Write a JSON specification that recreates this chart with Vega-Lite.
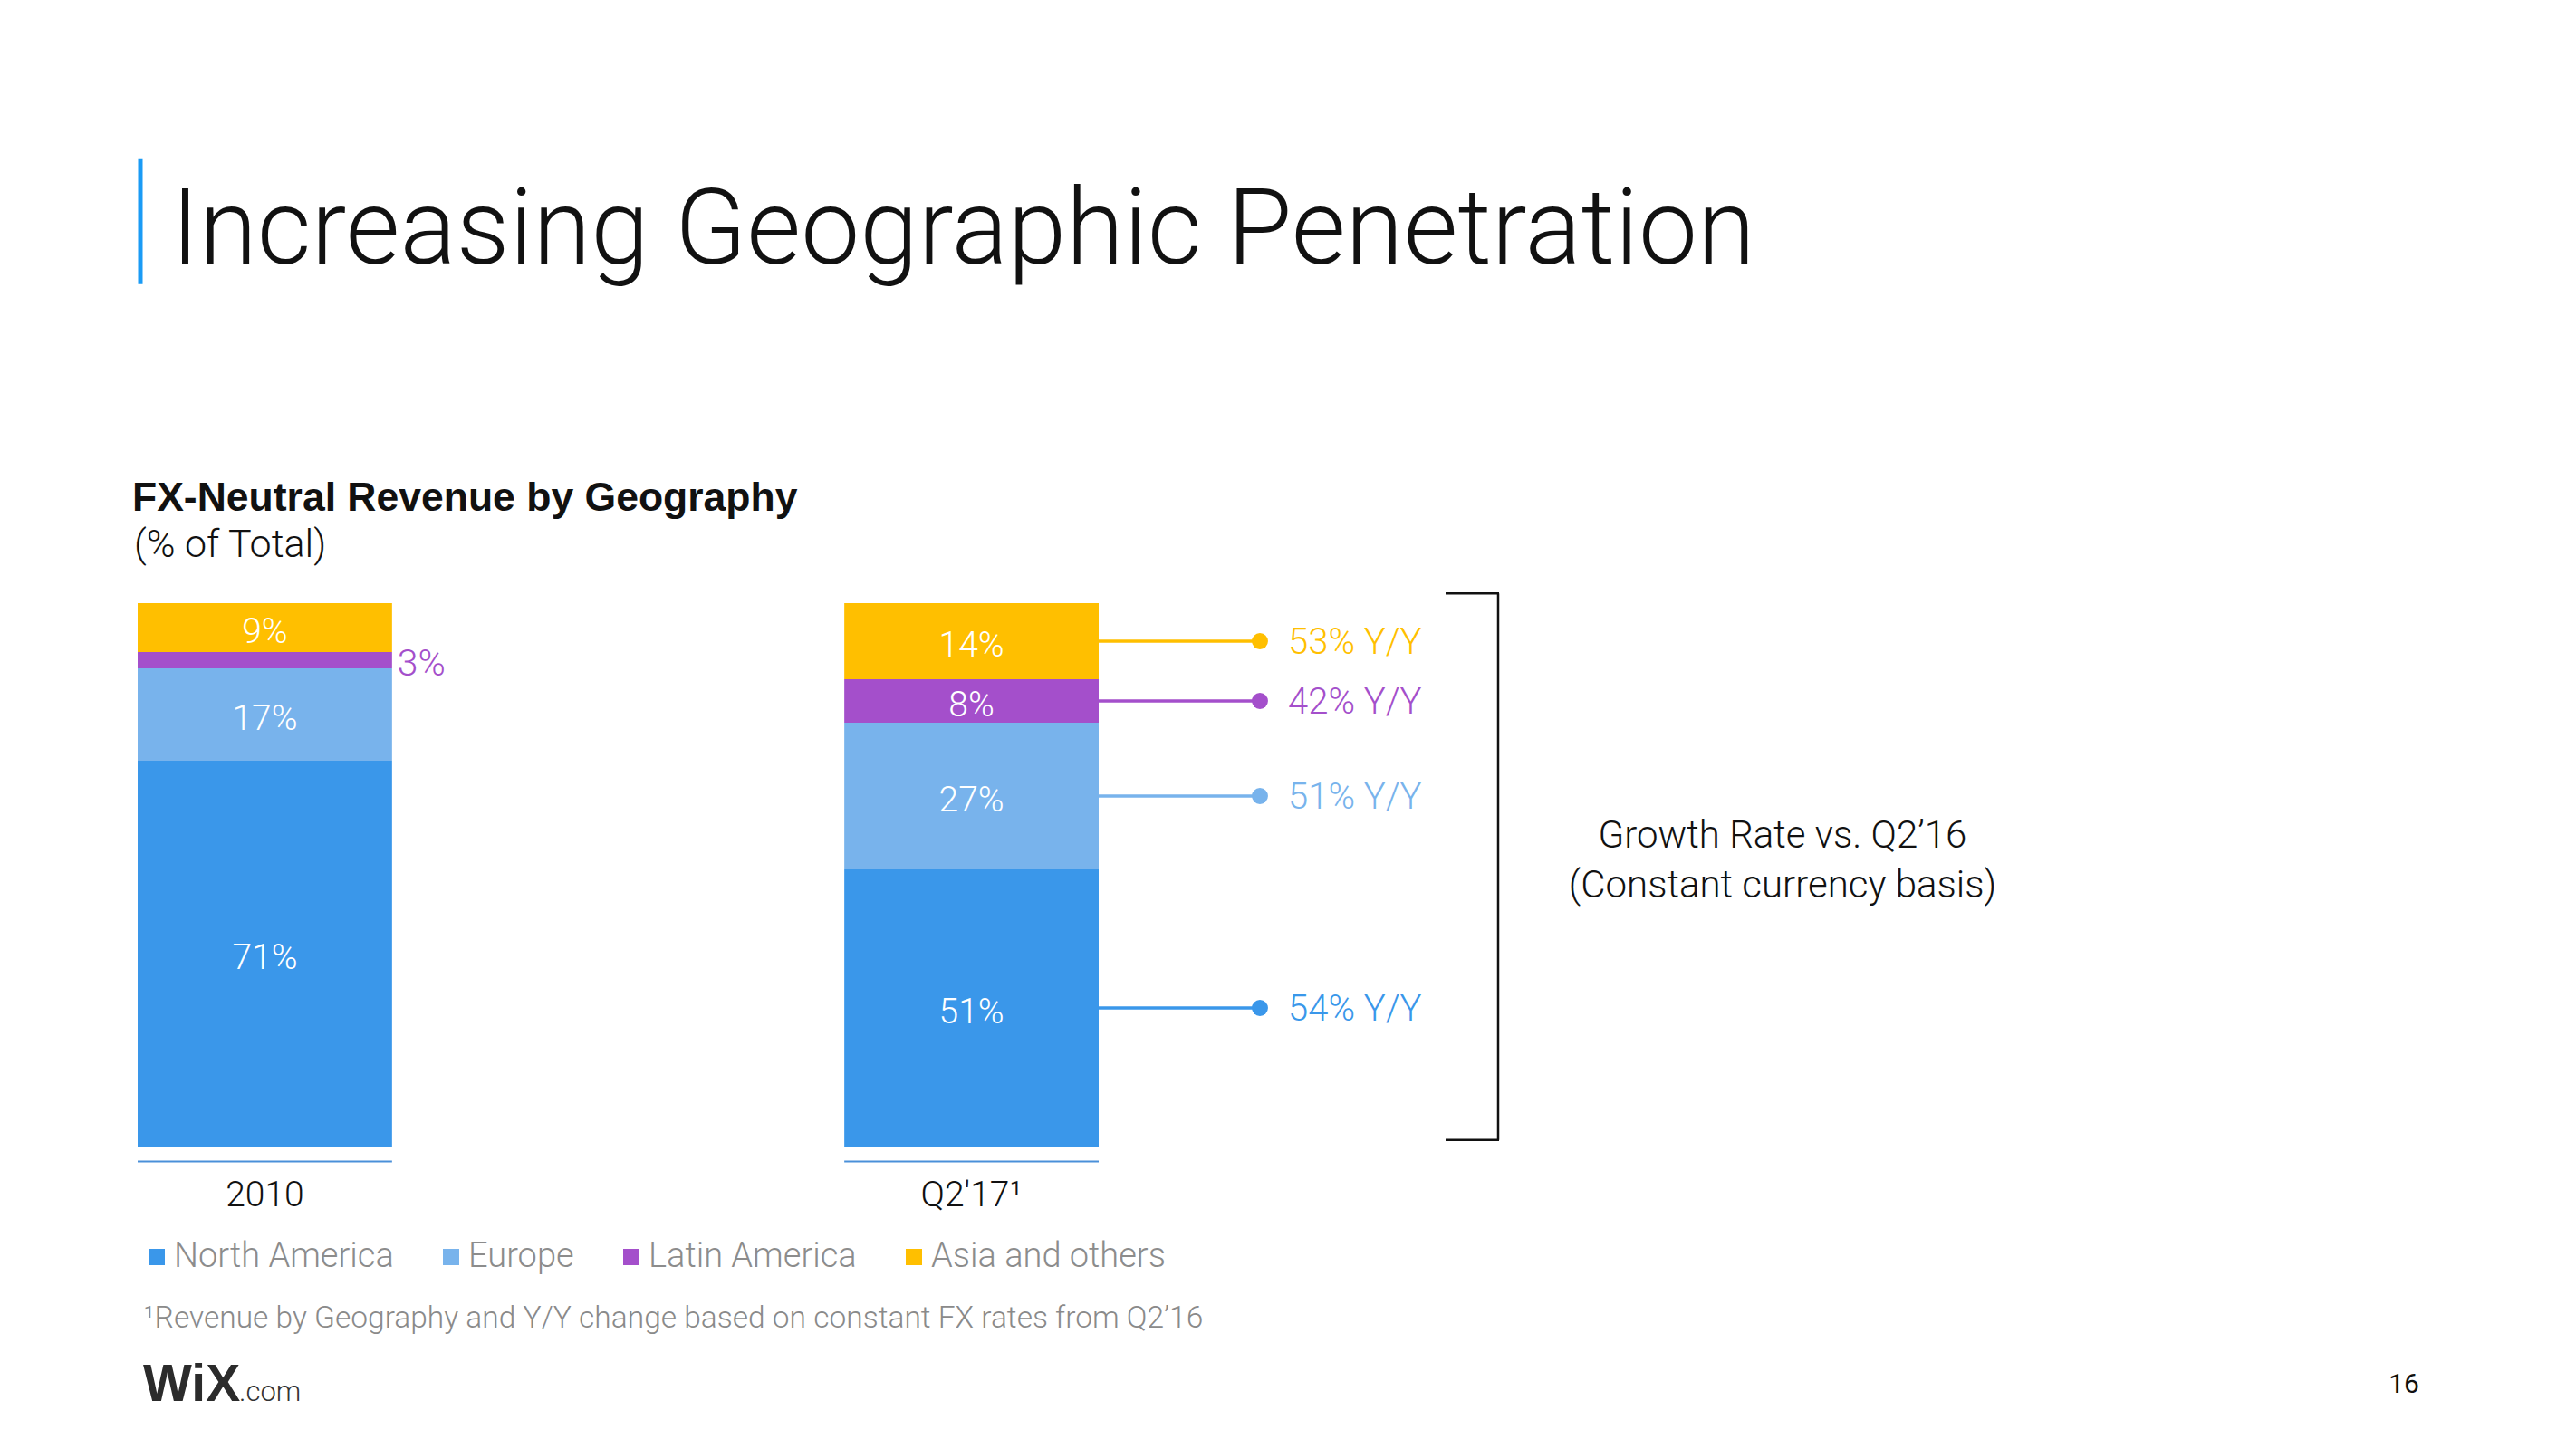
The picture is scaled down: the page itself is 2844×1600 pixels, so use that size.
{
  "$schema": "https://vega.github.io/schema/vega-lite/v6.json",
  "autosize": {"type": "none"},
  "width": 1061,
  "height": 600,
  "padding": {"left": 152, "top": 666, "right": 1631, "bottom": 334},
  "background": "white",
  "config": {"view": {"stroke": null}, "font": "Roboto"},
  "data": {
    "values": [
      {"period": "2010", "region": "North America", "rank": 1, "share": 71},
      {"period": "2010", "region": "Europe", "rank": 2, "share": 17},
      {"period": "2010", "region": "Latin America", "rank": 3, "share": 3},
      {"period": "2010", "region": "Asia and others", "rank": 4, "share": 9},
      {"period": "Q2'17¹", "region": "North America", "rank": 1, "share": 51, "growth": 54},
      {"period": "Q2'17¹", "region": "Europe", "rank": 2, "share": 27, "growth": 51},
      {"period": "Q2'17¹", "region": "Latin America", "rank": 3, "share": 8, "growth": 42},
      {"period": "Q2'17¹", "region": "Asia and others", "rank": 4, "share": 14, "growth": 53}
    ]
  },
  "layer": [
    {
      "mark": {"type": "bar"},
      "encoding": {
        "x": {
          "field": "period",
          "type": "nominal",
          "title": "¹Revenue by Geography and Y/Y change based on constant FX rates from Q2’16",
          "scale": {"type": "band", "domain": ["2010", "Q2'17¹"], "paddingInner": 0.64, "paddingOuter": 0, "round": false},
          "axis": {
            "orient": "bottom",
            "domain": false,
            "ticks": false,
            "tickSize": 0,
            "grid": false,
            "labelAngle": 0,
            "labelPadding": 34,
            "labelFont": "Roboto",
            "labelFontWeight": 300,
            "labelFontSize": 39,
            "labelColor": "#111111",
            "titleX": 6,
            "titleY": 189,
            "titleAlign": "left",
            "titleAnchor": "start",
            "titleBaseline": "middle",
            "titleFont": "Roboto",
            "titleFontWeight": 300,
            "titleFontSize": 33.5,
            "titleColor": "#8a8a8a"
          }
        },
        "y": {
          "field": "share",
          "type": "quantitative",
          "stack": "zero",
          "scale": {"domain": [0, 100], "nice": false, "zero": true},
          "axis": null
        },
        "color": {
          "field": "region",
          "type": "nominal",
          "scale": {
            "domain": ["North America", "Europe", "Latin America", "Asia and others"],
            "range": ["#3A97EA", "#78B3EC", "#A44FCB", "#FFBF00"]
          },
          "legend": {
            "orient": "none",
            "legendX": 2,
            "legendY": 703,
            "direction": "horizontal",
            "title": null,
            "padding": 0,
            "symbolType": "square",
            "symbolSize": 324,
            "symbolStrokeWidth": 0,
            "symbolOpacity": 1,
            "labelFont": "Roboto",
            "labelFontWeight": 300,
            "labelFontSize": 38,
            "labelColor": "#8c8c8c",
            "labelOffset": 0,
            "labelLimit": 800,
            "columnPadding": 44
          }
        },
        "order": {"field": "rank", "sort": "ascending"}
      }
    },
    {
      "transform": [{"filter": {"field": "region", "equal": "North America"}}],
      "mark": {"type": "bar", "color": "#4a90d9"},
      "encoding": {
        "x": {"field": "period", "type": "nominal"},
        "y": {"datum": -2.6},
        "y2": {"datum": -2.93}
      }
    },
    {
      "transform": [
        {"stack": "share", "groupby": ["period"], "sort": [{"field": "rank", "order": "ascending"}], "as": ["y0", "y1"]},
        {"fold": ["y0", "y1"], "as": ["edge", "ypos"]},
        {"aggregate": [{"op": "mean", "field": "ypos", "as": "ymid"}], "groupby": ["period", "region", "rank", "share", "growth"]}
      ],
      "layer": [
        {
          "transform": [{"filter": {"field": "share", "gte": 5}}],
          "mark": {"type": "text", "color": "white", "font": "Roboto", "fontWeight": 300, "fontSize": 39, "align": "center", "baseline": "middle", "dy": 5, "text": {"expr": "datum.share + '%'"}},
          "encoding": {
            "x": {"field": "period", "type": "nominal"},
            "y": {"field": "ymid", "type": "quantitative"}
          }
        },
        {
          "transform": [{"filter": {"field": "share", "lt": 5}}],
          "mark": {"type": "text", "color": "#A44FCB", "font": "Roboto", "fontWeight": 300, "fontSize": 41, "align": "left", "baseline": "middle", "dx": 6, "dy": 5, "text": {"expr": "datum.share + '%'"}},
          "encoding": {
            "x": {"field": "period", "type": "nominal", "bandPosition": 1},
            "y": {"field": "ymid", "type": "quantitative"}
          }
        },
        {
          "transform": [{"filter": {"field": "growth", "valid": true}}],
          "mark": {"type": "rule", "strokeWidth": 3.5, "x2Offset": 178},
          "encoding": {
            "x": {"field": "period", "type": "nominal", "bandPosition": 1},
            "x2": {"field": "period", "bandPosition": 1},
            "y": {"field": "ymid", "type": "quantitative"},
            "color": {"field": "region", "type": "nominal", "legend": null}
          }
        },
        {
          "transform": [{"filter": {"field": "growth", "valid": true}}],
          "mark": {"type": "point", "filled": true, "opacity": 1, "size": 320, "xOffset": 178},
          "encoding": {
            "x": {"field": "period", "type": "nominal", "bandPosition": 1},
            "y": {"field": "ymid", "type": "quantitative"},
            "color": {"field": "region", "type": "nominal", "legend": null}
          }
        },
        {
          "transform": [{"filter": {"field": "growth", "valid": true}}],
          "mark": {"type": "text", "font": "Roboto", "fontWeight": 300, "fontSize": 40, "align": "left", "baseline": "middle", "xOffset": 209, "dy": 2, "text": {"expr": "datum.growth + '% Y/Y'"}},
          "encoding": {
            "x": {"field": "period", "type": "nominal", "bandPosition": 1},
            "y": {"field": "ymid", "type": "quantitative"},
            "color": {"field": "region", "type": "nominal", "legend": null}
          }
        }
      ]
    },
    {
      "data": {"values": [{}]},
      "mark": {"type": "rule", "color": "#1a9bf5", "strokeWidth": 5, "xOffset": 3},
      "encoding": {
        "x": {"datum": "2010", "bandPosition": 0},
        "y": {"datum": 181.7},
        "y2": {"datum": 158.7}
      }
    },
    {
      "data": {"values": [{}]},
      "mark": {"type": "text", "text": "Increasing Geographic Penetration", "font": "Roboto", "fontWeight": 300, "fontSize": 116, "color": "#111111", "align": "left", "baseline": "alphabetic", "xOffset": 37},
      "encoding": {
        "x": {"datum": "2010", "bandPosition": 0},
        "y": {"datum": 162.5}
      }
    },
    {
      "data": {"values": [{}]},
      "mark": {"type": "text", "text": "FX-Neutral Revenue by Geography", "font": "Liberation Sans", "fontWeight": "bold", "fontSize": 44.5, "color": "#111111", "align": "left", "baseline": "alphabetic", "xOffset": -6},
      "encoding": {
        "x": {"datum": "2010", "bandPosition": 0},
        "y": {"datum": 117}
      }
    },
    {
      "data": {"values": [{}]},
      "mark": {"type": "text", "text": "(% of Total)", "font": "Roboto", "fontWeight": 300, "fontSize": 43, "color": "#111111", "align": "left", "baseline": "alphabetic", "xOffset": -4},
      "encoding": {
        "x": {"datum": "2010", "bandPosition": 0},
        "y": {"datum": 108.5}
      }
    },
    {
      "data": {"values": [{}]},
      "mark": {"type": "rule", "color": "#111111", "strokeWidth": 2.5, "xOffset": 441},
      "encoding": {
        "x": {"datum": "Q2'17¹", "bandPosition": 1},
        "y": {"datum": 101.8},
        "y2": {"datum": 1.2}
      }
    },
    {
      "data": {"values": [{}]},
      "mark": {"type": "rule", "color": "#111111", "strokeWidth": 2.5, "xOffset": 383, "x2Offset": 442},
      "encoding": {
        "x": {"datum": "Q2'17¹", "bandPosition": 1},
        "x2": {"datum": "Q2'17¹", "bandPosition": 1},
        "y": {"datum": 101.8}
      }
    },
    {
      "data": {"values": [{}]},
      "mark": {"type": "rule", "color": "#111111", "strokeWidth": 2.5, "xOffset": 383, "x2Offset": 442},
      "encoding": {
        "x": {"datum": "Q2'17¹", "bandPosition": 1},
        "x2": {"datum": "Q2'17¹", "bandPosition": 1},
        "y": {"datum": 1.2}
      }
    },
    {
      "data": {"values": [{}]},
      "mark": {"type": "text", "text": ["Growth Rate vs. Q2’16", "(Constant currency basis)"], "font": "Roboto", "fontWeight": 300, "fontSize": 42, "lineHeight": 55, "color": "#111111", "align": "center", "baseline": "middle", "xOffset": 755},
      "encoding": {
        "x": {"datum": "Q2'17¹", "bandPosition": 1},
        "y": {"datum": 57.1}
      }
    },
    {
      "data": {"values": [{}]},
      "mark": {"type": "text", "text": "WiX", "font": "Liberation Sans", "fontWeight": "bold", "fontSize": 57, "color": "#2b2b2b", "align": "left", "baseline": "alphabetic", "xOffset": 6},
      "encoding": {
        "x": {"datum": "2010", "bandPosition": 0},
        "y": {"datum": -46.8}
      }
    },
    {
      "data": {"values": [{}]},
      "mark": {"type": "text", "text": ".com", "font": "Roboto", "fontWeight": 300, "fontSize": 31, "color": "#333333", "align": "left", "baseline": "alphabetic", "xOffset": 112},
      "encoding": {
        "x": {"datum": "2010", "bandPosition": 0},
        "y": {"datum": -46.8}
      }
    },
    {
      "data": {"values": [{}]},
      "mark": {"type": "text", "text": "16", "font": "Roboto", "fontWeight": 400, "fontSize": 30, "color": "#111111", "align": "center", "baseline": "middle", "xOffset": 1441},
      "encoding": {
        "x": {"datum": "Q2'17¹", "bandPosition": 1},
        "y": {"datum": -43.8}
      }
    }
  ]
}
